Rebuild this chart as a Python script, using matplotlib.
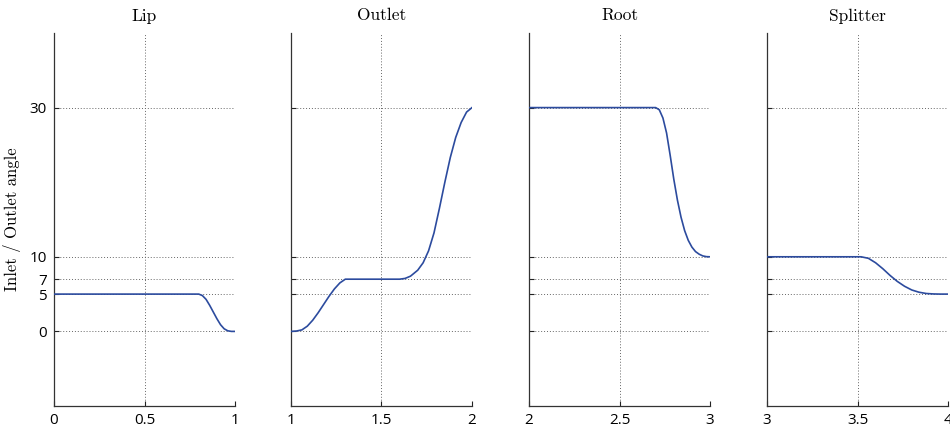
"""Inlet / outlet angle distribution along the four blade sections."""
import numpy as np
import matplotlib
matplotlib.use("Agg")
import matplotlib.pyplot as plt

TITLES = ["Lip", "Outlet", "Root", "Splitter"]
Y_TICKS = [0, 5, 7, 10, 30]
X_TICKS = [[0, 0.5, 1], [1, 1.5, 2], [2, 2.5, 3], [3, 3.5, 4]]
X_TICKLABELS = [["0", "0.5", "1"], ["1", "1.5", "2"], ["2", "2.5", "3"], ["3", "3.5", "4"]]

# values
LIP_X = [0.0, 0.80, 0.82, 0.84, 0.86, 0.88, 0.90, 0.92, 0.94, 0.96, 0.98, 1.0]
LIP_Y = [5.0, 5.0, 4.8, 4.3, 3.5, 2.6, 1.7, 0.9, 0.35, 0.08, 0.0, 0.0]

OUTLET_X = [1.0, 1.03, 1.06, 1.09, 1.12, 1.15, 1.18, 1.21, 1.24, 1.27, 1.30,
            1.60, 1.63, 1.66, 1.70, 1.73, 1.76, 1.79, 1.82, 1.85, 1.88,
            1.91, 1.94, 1.97, 2.0]
OUTLET_Y = [0.0, 0.05, 0.2, 0.7, 1.5, 2.5, 3.6, 4.7, 5.7, 6.5, 7.0,
            7.0, 7.1, 7.4, 8.2, 9.2, 10.8, 13.2, 16.5, 20.0, 23.3,
            26.0, 28.0, 29.4, 30.0]

ROOT_X = [2.0, 2.70, 2.72, 2.74, 2.76, 2.78, 2.80, 2.82, 2.84, 2.86, 2.88,
          2.90, 2.92, 2.94, 2.96, 2.98, 3.0]
ROOT_Y = [30.0, 30.0, 29.7, 28.6, 26.6, 23.6, 20.4, 17.6, 15.3, 13.5, 12.2,
          11.3, 10.7, 10.35, 10.12, 10.02, 10.0]

SPLIT_X = [3.0, 3.52, 3.56, 3.60, 3.64, 3.68, 3.72, 3.76, 3.80, 3.84, 3.88,
           3.92, 3.96, 4.0]
SPLIT_Y = [10.0, 10.0, 9.8, 9.2, 8.4, 7.5, 6.7, 6.05, 5.55, 5.25, 5.08,
           5.02, 5.0, 5.0]

CURVES = [(LIP_X, LIP_Y), (OUTLET_X, OUTLET_Y), (ROOT_X, ROOT_Y), (SPLIT_X, SPLIT_Y)]

plt.rcParams["font.family"] = ["Open Sans", "DejaVu Sans"]

fig = plt.figure(figsize=(9.5, 4.3), dpi=100)
lefts = [54, 291, 529, 767]
for i, left in enumerate(lefts):
    ax = fig.add_axes([left / 950, 24 / 430, 181 / 950, 373 / 430])
    xs, ys = CURVES[i]
    ax.plot(xs, ys, color="#2c4b9e", lw=1.2, zorder=3)
    ax.set_xlim(X_TICKS[i][0], X_TICKS[i][-1])
    ax.set_ylim(-10, 40)
    ax.set_xticks(X_TICKS[i])
    ax.set_xticklabels(X_TICKLABELS[i])
    ax.set_yticks(Y_TICKS)
    if i == 0:
        ax.set_yticklabels([str(v) for v in Y_TICKS])
        ax.set_ylabel("Inlet / Outlet angle", family="cmr10", fontsize=12, labelpad=6)
    else:
        ax.set_yticklabels([])
    ax.grid(True, ls=(0, (1, 2)), color="#666666", lw=0.7)
    ax.tick_params(direction="in", length=3.5, width=0.8, labelsize=11, pad=5,
                   color="#222222")
    ax.spines["top"].set_visible(False)
    ax.spines["right"].set_visible(False)
    for s in ("left", "bottom"):
        ax.spines[s].set_color("#333333")
        ax.spines[s].set_linewidth(0.9)
    ax.set_title(TITLES[i], family="cmr10", fontsize=12.5, pad=9)

fig.savefig("out.png", dpi=100)
